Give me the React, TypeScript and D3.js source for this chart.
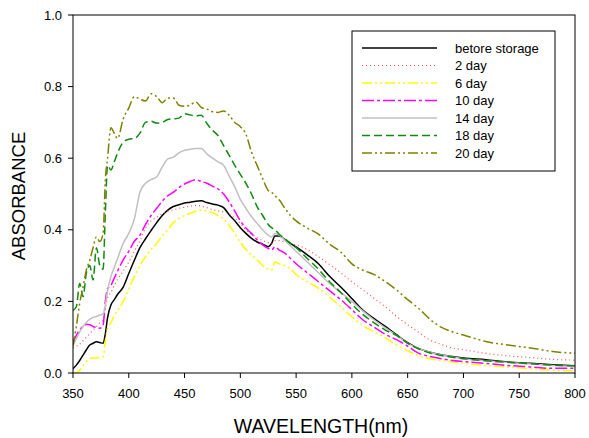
import React from "react";
import * as d3 from "d3";

const wavelengths = [350,353,356,359,362,365,368,371,374,377,379,381,384,387,390,395,400,405,410,415,420,425,430,435,440,445,450,455,460,465,470,475,480,485,490,495,500,505,510,515,520,525,528,531,535,540,545,550,560,570,580,590,600,610,620,630,640,650,660,670,680,690,700,720,740,760,780,800];

const beforeStorage = [0.012,0.022,0.035,0.05,0.065,0.078,0.083,0.087,0.085,0.083,0.11,0.155,0.19,0.205,0.22,0.24,0.278,0.315,0.35,0.375,0.398,0.42,0.44,0.455,0.465,0.47,0.475,0.477,0.48,0.481,0.476,0.472,0.469,0.462,0.442,0.425,0.406,0.39,0.376,0.366,0.36,0.353,0.362,0.383,0.383,0.372,0.362,0.352,0.33,0.305,0.27,0.24,0.208,0.175,0.152,0.13,0.107,0.085,0.068,0.058,0.051,0.046,0.042,0.037,0.031,0.027,0.023,0.02];
const day2 = [0.07,0.075,0.08,0.09,0.1,0.11,0.12,0.13,0.14,0.148,0.18,0.21,0.225,0.245,0.262,0.285,0.31,0.34,0.37,0.405,0.425,0.435,0.445,0.452,0.456,0.46,0.463,0.466,0.468,0.466,0.462,0.456,0.453,0.45,0.445,0.432,0.418,0.4,0.388,0.378,0.37,0.364,0.362,0.37,0.37,0.366,0.362,0.358,0.345,0.325,0.303,0.28,0.255,0.232,0.208,0.185,0.158,0.135,0.113,0.092,0.08,0.07,0.065,0.055,0.048,0.043,0.038,0.036];
const day6 = [0.0,0.0,0.008,0.02,0.032,0.04,0.042,0.042,0.044,0.045,0.09,0.125,0.14,0.16,0.175,0.2,0.235,0.27,0.3,0.325,0.345,0.362,0.383,0.4,0.42,0.432,0.44,0.446,0.452,0.455,0.452,0.448,0.44,0.43,0.412,0.39,0.365,0.345,0.33,0.316,0.3,0.29,0.288,0.31,0.305,0.3,0.29,0.275,0.255,0.237,0.212,0.185,0.157,0.132,0.115,0.098,0.078,0.062,0.048,0.04,0.035,0.031,0.027,0.021,0.017,0.012,0.008,0.006];
const day10 = [0.085,0.105,0.12,0.13,0.136,0.135,0.13,0.127,0.125,0.134,0.2,0.235,0.245,0.265,0.285,0.316,0.34,0.368,0.385,0.415,0.44,0.46,0.48,0.495,0.505,0.518,0.528,0.535,0.54,0.535,0.53,0.522,0.514,0.5,0.478,0.452,0.425,0.405,0.39,0.372,0.358,0.348,0.344,0.352,0.343,0.335,0.32,0.305,0.28,0.255,0.23,0.205,0.177,0.148,0.128,0.108,0.093,0.075,0.055,0.046,0.04,0.035,0.032,0.027,0.021,0.017,0.013,0.013];
const day14 = [0.078,0.095,0.115,0.13,0.142,0.15,0.155,0.158,0.162,0.165,0.19,0.23,0.27,0.295,0.32,0.362,0.39,0.43,0.505,0.53,0.54,0.548,0.575,0.598,0.603,0.615,0.622,0.625,0.627,0.627,0.612,0.6,0.59,0.58,0.55,0.52,0.485,0.46,0.437,0.418,0.4,0.385,0.38,0.39,0.385,0.37,0.355,0.34,0.31,0.28,0.25,0.225,0.2,0.173,0.148,0.126,0.105,0.083,0.068,0.058,0.05,0.045,0.04,0.034,0.029,0.025,0.021,0.018];
const day18 = [0.175,0.185,0.25,0.213,0.28,0.3,0.26,0.35,0.3,0.29,0.45,0.58,0.567,0.59,0.615,0.645,0.653,0.655,0.67,0.7,0.703,0.698,0.7,0.708,0.71,0.712,0.724,0.721,0.718,0.72,0.697,0.678,0.663,0.635,0.608,0.58,0.555,0.53,0.5,0.465,0.44,0.415,0.406,0.4,0.387,0.375,0.362,0.35,0.32,0.29,0.255,0.225,0.192,0.163,0.14,0.12,0.105,0.083,0.067,0.056,0.049,0.044,0.04,0.034,0.03,0.026,0.022,0.02];
const day20 = [0.075,0.13,0.195,0.24,0.288,0.315,0.35,0.38,0.367,0.39,0.54,0.6,0.685,0.67,0.655,0.71,0.74,0.772,0.765,0.76,0.78,0.772,0.755,0.768,0.768,0.748,0.745,0.748,0.757,0.742,0.737,0.73,0.728,0.732,0.72,0.7,0.688,0.667,0.617,0.58,0.543,0.51,0.505,0.495,0.483,0.46,0.44,0.425,0.405,0.388,0.36,0.338,0.305,0.287,0.275,0.255,0.232,0.205,0.18,0.15,0.128,0.115,0.106,0.088,0.078,0.07,0.06,0.055];

const seriesNames = ["betore storage", "2 day", "6 day", "10 day", "14 day", "18 day", "20 day"];
const seriesValues = [beforeStorage, day2, day6, day10, day14, day18, day20];
const xTicks = [350, 400, 450, 500, 550, 600, 650, 700, 750, 800];
const yTicks = [0.0, 0.2, 0.4, 0.6, 0.8, 1.0];

const styles = [
  { color: "#000000", dash: "", width: 1.5 },
  { color: "#ff5050", dash: "1,3", width: 1.2 },
  { color: "#ffff00", dash: "10,3,2,3,2,3", width: 1.5 },
  { color: "#ff00ff", dash: "12,3,3,3", width: 1.5 },
  { color: "#c0c0c0", dash: "", width: 1.5 },
  { color: "#108a10", dash: "8,4", width: 1.5 },
  { color: "#808000", dash: "10,3,2,3,2,3", width: 1.5 },
];

export default function App() {
  const W = 589, H = 438;
  const left = 73, right = 575, top = 15, bottom = 373;
  const x = d3.scaleLinear().domain([350, 800]).range([left, right]);
  const y = d3.scaleLinear().domain([0, 1]).range([bottom, top]);
  const line = d3.line<number>()
    .x((_, i) => x(wavelengths[i]))
    .y((d) => y(Math.max(0, d)))
    .curve(d3.curveMonotoneX);
  const font = "'Liberation Sans', Arial, sans-serif";
  const legX = 352, legY = 31, legW = 203, legH = 140;
  return (
    <svg width={W} height={H} style={{ position: "absolute", left: 0, top: 0, background: "#fff" }}>
      <defs>
        <clipPath id="plot">
          <rect x={left} y={top} width={right - left} height={bottom - top} />
        </clipPath>
      </defs>
      <rect x={0} y={0} width={W} height={H} fill="#fff" />
      <g clipPath="url(#plot)">
        {seriesValues.map((vals, i) => (
          <path key={i} d={line(vals) || ""} fill="none" stroke={styles[i].color}
            strokeWidth={styles[i].width} strokeDasharray={styles[i].dash} strokeLinejoin="round" />
        ))}
      </g>
      <rect x={left} y={top} width={right - left} height={bottom - top} fill="none" stroke="#000" strokeWidth={1} />
      {xTicks.map((t) => (
        <g key={t}>
          <line x1={x(t)} x2={x(t)} y1={bottom} y2={bottom + 5} stroke="#000" />
          <text x={x(t)} y={398} fontSize={13} fontFamily={font} textAnchor="middle" fill="#000">{t}</text>
        </g>
      ))}
      {yTicks.map((t) => (
        <g key={t}>
          <line x1={left - 5} x2={left} y1={y(t)} y2={y(t)} stroke="#000" />
          <text x={62} y={y(t) + 4.5} fontSize={13} fontFamily={font} textAnchor="end" fill="#000">{t.toFixed(1)}</text>
        </g>
      ))}
      <text x={321} y={433} fontSize={19.5} fontFamily={font} textAnchor="middle" fill="#000">WAVELENGTH(nm)</text>
      <text transform={`translate(25,196) rotate(-90)`} fontSize={18.5} fontFamily={font} textAnchor="middle" fill="#000">ABSORBANCE</text>
      <rect x={legX} y={legY} width={legW} height={legH} fill="#fff" stroke="#000" strokeWidth={1} />
      {seriesNames.map((name, i) => {
        const ry = 48 + i * 17.5;
        return (
          <g key={name}>
            <line x1={362} x2={437} y1={ry} y2={ry} stroke={styles[i].color}
              strokeWidth={styles[i].width} strokeDasharray={styles[i].dash} />
            <text x={455} y={ry + 4.5} fontSize={13} fontFamily={font} fill="#000">{name}</text>
          </g>
        );
      })}
    </svg>
  );
}
